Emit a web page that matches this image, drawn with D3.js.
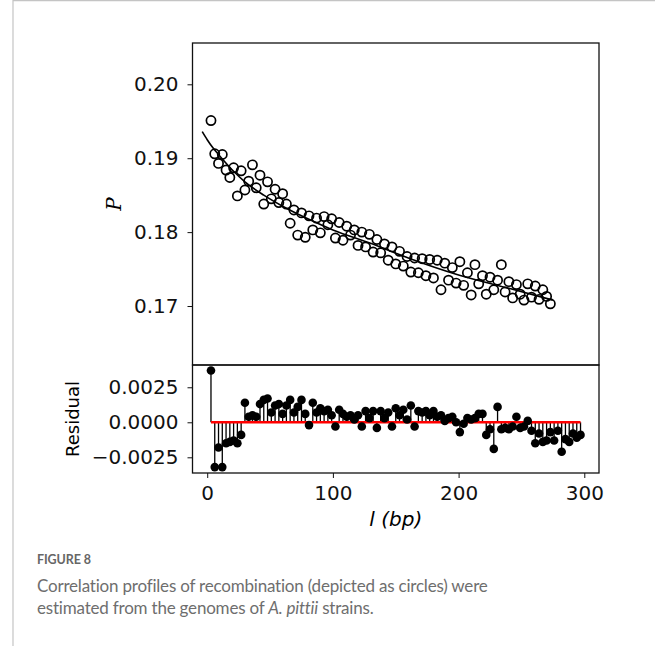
<!doctype html>
<html>
<head>
<meta charset="utf-8">
<script src="https://d3js.org/d3.v7.min.js"></script>
<style>
  body { margin: 0; background: #fff; }
  svg { display: block; }
  .tick text { font-family: "DejaVu Sans", sans-serif; font-size: 20px; fill: #111; }
  .tick line { stroke: #111; stroke-width: 1; }
</style>
</head>
<body>
<svg></svg>
<script>

// recombination profile P(l), circles
var pL = [3,6,9,12,15,18,21,24,27,30,33,36,39,42,45,48,51,54,57,60,
  63,66,69,72,75,78,81,84,87,90,93,96,99,102,105,108,111,114,117,120,
  123,126,129,132,135,138,141,144,147,150,153,156,159,162,165,168,171,174,177,180,
  183,186,189,192,195,198,201,204,207,210,213,216,219,222,225,228,231,234,237,240,
  243,246,249,252,255,258,261,264,267,270,273];
var pValues = [0.1951,0.1906,0.1893,0.1905,0.1884,0.1874,0.1887,0.1849,0.1883,0.1857,
  0.1869,0.1891,0.1860,0.1877,0.1838,0.1868,0.1845,0.1858,0.1840,0.1852,
  0.1838,0.1812,0.1830,0.1796,0.1826,0.1793,0.1822,0.1803,0.1819,0.1799,
  0.1821,0.1810,0.1818,0.1792,0.1813,0.1789,0.1808,0.1796,0.1803,0.1782,
  0.1800,0.1780,0.1797,0.1773,0.1790,0.1772,0.1784,0.1762,0.1780,0.1757,
  0.1774,0.1754,0.1767,0.1746,0.1765,0.1745,0.1764,0.1741,0.1763,0.1738,
  0.1762,0.1722,0.1758,0.1735,0.1752,0.1731,0.1760,0.1728,0.1745,0.1715,
  0.1756,0.1730,0.1741,0.1716,0.1739,0.1722,0.1735,0.1756,0.1719,0.1733,
  0.1711,0.1729,0.1716,0.1708,0.1730,0.1712,0.1727,0.1709,0.1722,0.1713,
  0.1703];

// fitted curve
var fitL = [-4,0,5,10,20,30,45,60,80,100,130,160,200,240,275];
var fitValues = [0.1936,0.1925,0.1913,0.1903,0.1884,0.1868,0.1850,0.1835,0.1818,0.1803,0.1785,0.1765,0.1742,0.1724,0.1708];

// residuals
var resL = [3,6,9,12,15,18,21,24,27,30,33,36,39,42,45,48,51,54,57,60,
  63,66,69,72,75,78,81,84,87,90,93,96,99,102,105,108,111,114,117,120,
  123,126,129,132,135,138,141,144,147,150,153,156,159,162,165,168,171,174,177,180,
  183,186,189,192,195,198,201,204,207,210,213,216,219,222,225,228,231,234,237,240,
  243,246,249,252,255,258,261,264,267,270,273,276,279,282,285,288,291,294,297];
var resValues = [0.0037,-0.0032,-0.0018,-0.0032,-0.0015,-0.0014,-0.0013,-0.0015,-0.0009,0.0014,
  0.0004,0.0005,0.0004,0.0013,0.0016,0.0017,0.0007,0.0012,0.0013,0.0006,
  0.0012,0.0016,0.0007,0.0011,0.0016,0.0006,-0.0002,0.0014,0.0007,0.0010,
  0.0008,0.0009,0.0005,-0.0003,0.0009,0.0006,0.0004,0.0005,0.0002,0.0005,
  -0.0003,0.0008,0.0003,0.0008,-0.0004,0.0008,0.0003,0.0007,-0.0003,0.0010,
  0.0005,0.0009,0.0002,0.0012,-0.0003,0.0008,0.0007,0.0008,0.0005,0.0008,
  0.0004,0.0005,0.0001,0.0003,0.0004,0.0000,-0.0007,-0.0001,0.0003,0.0002,
  0.0003,0.0006,0.0006,-0.0009,-0.0005,-0.0019,0.0011,-0.0005,-0.0004,-0.0005,
  -0.0003,0.0004,-0.0004,-0.0003,0.0001,-0.0006,-0.0015,-0.0008,-0.0014,-0.0013,
  -0.0007,-0.0013,-0.0006,-0.0021,-0.0012,-0.0014,-0.0008,-0.0011,-0.0009];

var xTicks = [0, 100, 200, 300];
var pTicks = [0.17, 0.18, 0.19, 0.20];
var resTicks = [-0.0025, 0, 0.0025];

var W = 655, H = 646;
var left = 192.5, right = 599, topY = 43, midY = 365, botY = 473;

var svg = d3.select("svg").attr("width", W).attr("height", H);

// page frame
svg.append("line").attr("x1", 13).attr("x2", 13).attr("y1", 0).attr("y2", H)
  .attr("stroke", "#c4c4c4").attr("stroke-width", 1.2);
svg.append("line").attr("x1", 13).attr("x2", W).attr("y1", 0.6).attr("y2", 0.6)
  .attr("stroke", "#c4c4c4").attr("stroke-width", 1.2);

var x = d3.scaleLinear().domain([-11.7, 311.7]).range([left, right]);
var yP = d3.scaleLinear().domain([0.16202, 0.20559]).range([midY, topY]);
var yR = d3.scaleLinear().domain([-0.00362, 0.00409]).range([botY, midY]);

// top panel
var gTop = svg.append("g");
gTop.append("path")
  .datum(fitL.map((l, i) => [l, fitValues[i]]))
  .attr("fill", "none").attr("stroke", "#000").attr("stroke-width", 1.6)
  .attr("d", d3.line().x(d => x(d[0])).y(d => yP(d[1])).curve(d3.curveMonotoneX));

gTop.selectAll("circle").data(pL).enter().append("circle")
  .attr("cx", d => x(d))
  .attr("cy", (d, i) => yP(pValues[i]))
  .attr("r", 4.6)
  .attr("fill", "none").attr("stroke", "#000").attr("stroke-width", 1.7);

gTop.append("g").attr("transform", "translate(" + left + ",0)")
  .call(d3.axisLeft(yP).tickValues(pTicks).tickFormat(d3.format(".2f"))
    .tickSize(5).tickPadding(9).tickSizeOuter(0))
  .call(g => g.select(".domain").remove());

gTop.append("rect").attr("x", left).attr("y", topY)
  .attr("width", right - left).attr("height", midY - topY)
  .attr("fill", "none").attr("stroke", "#111").attr("stroke-width", 1.3);

// residual panel
var gRes = svg.append("g");
gRes.selectAll("line.stem").data(resL).enter().append("line")
  .attr("class", "stem")
  .attr("x1", d => x(d)).attr("x2", d => x(d))
  .attr("y1", yR(0)).attr("y2", (d, i) => yR(resValues[i]))
  .attr("stroke", "#000").attr("stroke-width", 1.3);

gRes.append("line")
  .attr("x1", x(d3.min(resL))).attr("x2", x(d3.max(resL)))
  .attr("y1", yR(0)).attr("y2", yR(0))
  .attr("stroke", "#f00").attr("stroke-width", 2.4);

gRes.selectAll("circle").data(resL).enter().append("circle")
  .attr("cx", d => x(d))
  .attr("cy", (d, i) => yR(resValues[i]))
  .attr("r", 4.3)
  .attr("fill", "#000");

gRes.append("g").attr("transform", "translate(" + left + ",0)")
  .call(d3.axisLeft(yR).tickValues(resTicks).tickFormat(d3.format(".4f"))
    .tickSize(5).tickPadding(9).tickSizeOuter(0))
  .call(g => g.select(".domain").remove());

gRes.append("g").attr("transform", "translate(0," + botY + ")")
  .call(d3.axisBottom(x).tickValues(xTicks).tickFormat(d3.format("d"))
    .tickSize(5).tickPadding(8).tickSizeOuter(0))
  .call(g => g.select(".domain").remove());

gRes.append("rect").attr("x", left).attr("y", midY)
  .attr("width", right - left).attr("height", botY - midY)
  .attr("fill", "none").attr("stroke", "#111").attr("stroke-width", 1.3);

// axis labels
svg.append("text")
  .attr("transform", "translate(121," + ((topY + midY) / 2) + ") rotate(-90)")
  .attr("text-anchor", "middle")
  .style("font-family", "'DejaVu Serif', serif").style("font-style", "italic")
  .style("font-size", "20px").text("P");

svg.append("text")
  .attr("transform", "translate(79," + ((midY + botY) / 2) + ") rotate(-90)")
  .attr("text-anchor", "middle")
  .style("font-family", "'DejaVu Sans', sans-serif").style("font-size", "18px")
  .text("Residual");

svg.append("text")
  .attr("x", (left + right) / 2).attr("y", 526)
  .attr("text-anchor", "middle")
  .style("font-family", "'DejaVu Sans', sans-serif").style("font-style", "italic")
  .style("font-size", "20px").text("l (bp)");

// caption
svg.append("text").attr("x", 37).attr("y", 563.5)
  .style("font-family", "Lato, sans-serif").style("font-size", "12.5px")
  .style("font-weight", "bold").style("letter-spacing", "-0.1px")
  .attr("fill", "#666").text("FIGURE 8");

var cap = svg.append("g").style("font-family", "Lato, sans-serif")
  .style("font-size", "17px").style("letter-spacing", "-0.2px").attr("fill", "#6e6e6e");
cap.append("text").attr("x", 37).attr("y", 591.5)
  .text("Correlation profiles of recombination (depicted as circles) were");
var l2 = cap.append("text").attr("x", 37).attr("y", 614);
l2.append("tspan").text("estimated from the genomes of ");
l2.append("tspan").style("font-style", "italic").text("A. pittii");
l2.append("tspan").text(" strains.");

</script>
</body>
</html>
